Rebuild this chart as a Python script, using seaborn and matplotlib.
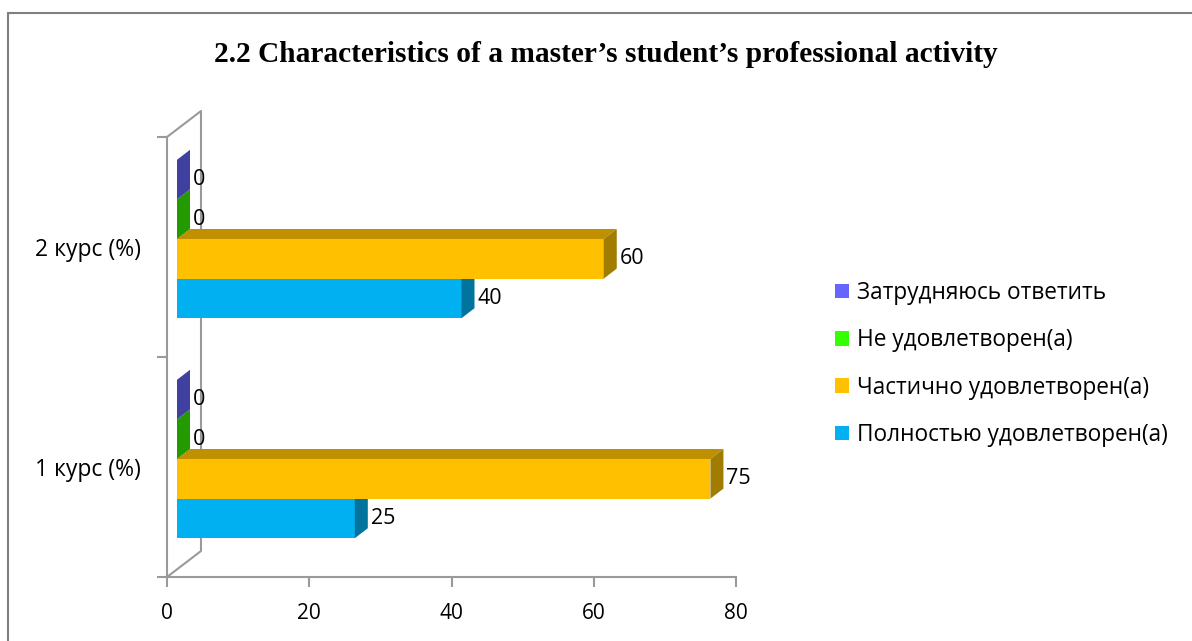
import matplotlib
matplotlib.use('Agg')
import matplotlib.pyplot as plt
from matplotlib.patches import Polygon, Rectangle
import seaborn as sns
import pandas as pd

# DATA
courses = ['2 курс (%)', '1 курс (%)']
answers = ['Затрудняюсь ответить', 'Не удовлетворен(а)',
           'Частично удовлетворен(а)', 'Полностью удовлетворен(а)']
course2_values = [0, 0, 60, 40]
course1_values = [0, 0, 75, 25]
x_ticks = [0, 20, 40, 60, 80]
title = '2.2 Characteristics of a master\u2019s student\u2019s professional activity'

# COLOURS (front, top, side faces)
front_colors = ['#6666FF', '#33FF00', '#FFC000', '#00B0F0']
top_colors = ['#5050C0', '#28C000', '#C09000', '#0088BB']
side_colors = ['#4040A0', '#229A00', '#A07C00', '#00749C']
line_color = '#9A9A9A'

# 3D look, in pixels
SHIFT_X, SHIFT_Y = 10, 8     # front face offset from the axis
DEPTH_X, DEPTH_Y = 13, 10    # bar depth
WALL_X, WALL_Y = 34, 26      # back wall offset

sns.set_style('white')
plt.rcParams['font.family'] = ['Open Sans', 'DejaVu Sans']
plt.rcParams['text.color'] = 'black'
plt.rcParams['xtick.labelcolor'] = 'black'
plt.rcParams['ytick.labelcolor'] = 'black'

df = pd.DataFrame({
    'course': [courses[0]] * 4 + [courses[1]] * 4,
    'answer': answers * 2,
    'value': course2_values + course1_values,
})

fig = plt.figure(figsize=(11.92, 6.41), dpi=100)
ax = fig.add_axes([167 / 1192, 64 / 641, 569 / 1192, 440 / 641])

sns.barplot(data=df, x='value', y='course', hue='answer', order=courses,
            hue_order=answers, palette=dict(zip(answers, front_colors)),
            saturation=1, width=0.72, orient='h', linewidth=0, ax=ax)

ax.set_xlim(0, 80)
ax.set_ylim(1.5, -0.5)

# pixel -> data conversion
px_x = (ax.get_xlim()[1] - ax.get_xlim()[0]) / ax.bbox.width
px_y = abs(ax.get_ylim()[0] - ax.get_ylim()[1]) / ax.bbox.height

sx, sy = SHIFT_X * px_x, SHIFT_Y * px_y
dx, dy = DEPTH_X * px_x, DEPTH_Y * px_y

for i, container in enumerate(ax.containers):
    z = 10 - i
    for patch in container.patches:
        patch.set_x(patch.get_x() + sx)
        patch.set_y(patch.get_y() - sy)
        patch.set_zorder(z)
        x0 = patch.get_x()
        x1 = x0 + patch.get_width()
        y0 = patch.get_y()
        y1 = y0 + patch.get_height()
        top = Polygon([(x0, y0), (x0 + dx, y0 - dy), (x1 + dx, y0 - dy), (x1, y0)],
                      closed=True, facecolor=top_colors[i], edgecolor='none',
                      zorder=z, clip_on=False)
        side = Polygon([(x1, y0), (x1 + dx, y0 - dy), (x1 + dx, y1 - dy), (x1, y1)],
                       closed=True, facecolor=side_colors[i], edgecolor='none',
                       zorder=z, clip_on=False)
        ax.add_patch(top)
        ax.add_patch(side)
    ax.bar_label(container, labels=[f'{v:g}' for v in container.datavalues],
                 padding=(DEPTH_X + 3) * 0.72, fontsize=15.5, zorder=12)

# axis frame: front lines + back wall
for s in ['top', 'right']:
    ax.spines[s].set_visible(False)
for s in ['left', 'bottom']:
    ax.spines[s].set_color(line_color)
    ax.spines[s].set_linewidth(1.5)

wx, wy = WALL_X * px_x, WALL_Y * px_y
ax.plot([0, wx, wx, 0], [-0.5, -0.5 - wy, 1.5 - wy, 1.5], color=line_color,
        lw=1.5, zorder=1, clip_on=False)

ax.set_xticks(x_ticks)
ax.tick_params(axis='x', colors=line_color, labelcolor='black', labelsize=15,
               length=7, width=1.5, pad=12, direction='out', bottom=True)
ax.set_yticks([0, 1])
ax.set_yticklabels(courses)
ax.set_yticks([-0.5, 0.5, 1.5], minor=True)
ax.tick_params(axis='y', which='major', length=0, labelsize=16.5, pad=19,
               labelcolor='black')
ax.tick_params(axis='y', which='minor', colors=line_color, length=7, width=1.5,
               left=True)
ax.set_xlabel('')
ax.set_ylabel('')

sns.move_legend(ax, 'upper left', bbox_to_anchor=(835 / 1192, 1 - 281 / 641),
                bbox_transform=fig.transFigure, frameon=False, title=None,
                fontsize=16.3, handlelength=0.6, handleheight=0.6,
                handletextpad=0.35, labelspacing=1.03, borderpad=0,
                borderaxespad=0)

fig.text(606 / 1192, 1 - 55 / 641, title, ha='center', va='center',
         fontsize=21.2, fontweight='bold', family=['Liberation Serif', 'DejaVu Serif'])

fig.patches.append(Rectangle((8 / 1192, -0.05), 1.2, 1 - 13 / 641 + 0.05,
                             transform=fig.transFigure, fill=False,
                             edgecolor='#7F7F7F', linewidth=1.5))

fig.savefig('out.png', dpi=100)
